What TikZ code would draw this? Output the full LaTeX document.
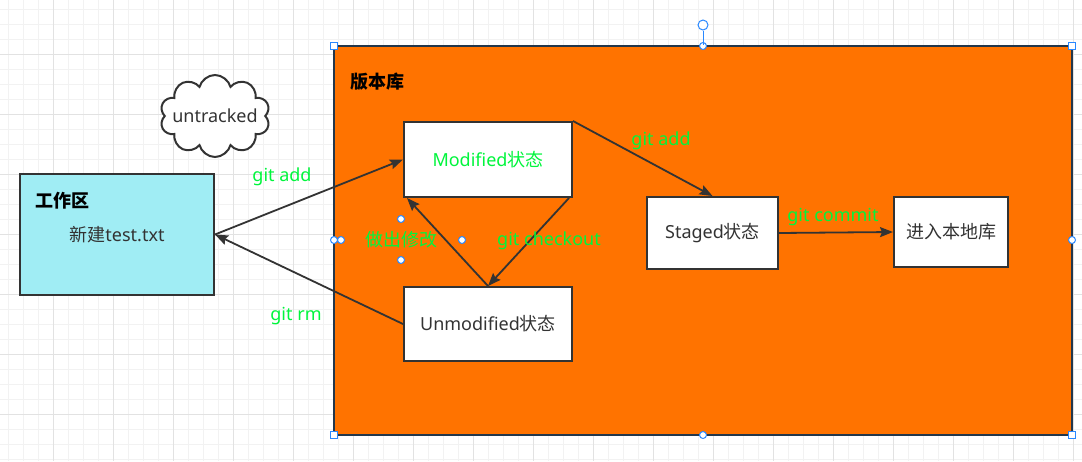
\documentclass[tikz,border=0pt]{standalone}
\usepackage{fontspec}
\setmainfont{Noto Sans}
\newfontfamily\cjk{Noto Sans CJK SC}
\usetikzlibrary{arrows.meta, shapes.symbols, positioning}
\definecolor{gitOrange}{RGB}{255,115,0}
\definecolor{gitCyan}{RGB}{160,237,244}
\definecolor{gitGreen}{RGB}{0,245,60}
\definecolor{edgeGrey}{RGB}{51,51,51}
\definecolor{frameBlue}{RGB}{35,55,75}
\definecolor{handleBlue}{RGB}{41,136,255}
\definecolor{gridLight}{RGB}{242,242,242}
\definecolor{gridDark}{RGB}{226,226,226}
\tikzset{
    stateBox/.style={rectangle, draw=edgeGrey, line width=2pt, fill=white, inner sep=0pt, text=edgeGrey, font=\fontsize{18}{21}\selectfont},
    gitEdge/.style={-{Stealth[length=13pt, width=10pt, inset=2pt]}, line width=1.8pt, draw=edgeGrey},
    gitLabel/.style={inner sep=0pt, text=gitGreen, font=\fontsize{18}{21}\selectfont},
    areaTitle/.style={anchor=west, inner sep=0pt, font=\cjk\bfseries\fontsize{18}{21}\selectfont},
    gridMinor/.style={draw=gridLight, line width=1pt},
    gridMajor/.style={draw=gridDark, line width=1pt},
    handleSquare/.style={draw=handleBlue, fill=white, line width=1pt},
    handleRound/.style={circle, draw=handleBlue, fill=white, line width=1pt, inner sep=0pt, minimum size=7},
}
\newcommand{\zh}[1]{{\cjk #1}}

\begin{document}
\begin{tikzpicture}[x=1pt, y=-1pt]
    \useasboundingbox (0,0) rectangle (1082,461);
    \clip (0,0) rectangle (1082,461);

    % background grid
    \foreach \k in {0,...,71} \draw[gridMinor] ({8.3+15*\k},0) -- ({8.3+15*\k},461);
    \foreach \k in {0,...,30} \draw[gridMinor] (0,{9.3+15*\k}) -- (1082,{9.3+15*\k});
    \foreach \k in {0,...,17} \draw[gridMajor] ({53.3+60*\k},0) -- ({53.3+60*\k},461);
    \foreach \k in {0,...,6} \draw[gridMajor] (0,{54.3+60*\k}) -- (1082,{54.3+60*\k});

    % repository area
    \node[draw=frameBlue, fill=gitOrange, line width=2pt, inner sep=0pt, minimum width=738, minimum height=389] (repo) at (703,240.5) {};
    \node[areaTitle] (repoTitle) at (350,82) {版本库};

    % working area
    \node[stateBox, fill=gitCyan, minimum width=194, minimum height=121] (work) at (117,234.5) {};
    \node[areaTitle] (workTitle) at (35,201) {工作区};
    \node[inner sep=0pt, text=edgeGrey, font=\fontsize{18}{21}\selectfont] (newFile) at (117,235) {\zh{新建}test.txt};

    \node[cloud, cloud puffs=10, aspect=1.35, draw=edgeGrey, fill=white, line width=2pt, inner sep=0pt, minimum width=110, minimum height=82,
          label={[text=edgeGrey, font=\fontsize{18}{21}\selectfont]center:untracked}] (untracked) at (215,116) {};

    % states
    \node[stateBox, minimum width=168, minimum height=75, text=gitGreen] (modified) at (488,159.5) {Modified\zh{状态}};
    \node[stateBox, minimum width=168, minimum height=74] (unmodified) at (488,324) {Unmodified\zh{状态}};
    \node[stateBox, minimum width=131, minimum height=72] (staged) at (712.5,233) {Staged\zh{状态}};
    \node[stateBox, minimum width=114, minimum height=70] (local) at (951,232) {\zh{进入本地库}};

    % transitions
    \draw[gitEdge] (work.east) -- (modified.west);
    \draw[gitEdge] (unmodified.west) -- (work.east);
    \draw[gitEdge] (modified.north east) -- (staged.north);
    \draw[gitEdge] ([xshift=-4pt]modified.south east) -- (unmodified.north);
    \draw[gitEdge] (unmodified.north) -- ([xshift=4pt]modified.south west);
    \draw[gitEdge] (staged.east) -- (local.west);

    \node[gitLabel] (lblAdd) at (282,177) {git add};
    \node[gitLabel] (lblRm) at (296,316) {git rm};
    \node[gitLabel] (lblStage) at (661,141) {git add};
    \node[gitLabel] (lblCheckout) at (549,241) {git checkout};
    \node[gitLabel] (lblModify) at (401,240) {\zh{做出修改}};
    \node[gitLabel] (lblCommit) at (833,217) {git commit};

    % selection handles
    \foreach \hx/\hy in {334/46, 1072/46, 334/435, 1072/435}
        \draw[handleSquare] ({\hx-3.5},{\hy-3.5}) rectangle ({\hx+3.5},{\hy+3.5});
    \foreach \hx/\hy in {703/46, 1072/240, 703/435, 334/240, 341/240, 401/219, 401/260, 462/240}
        \draw[handleSquare] (\hx,\hy) circle (3.5);
    \node[handleRound, minimum size=10] (rotHandle) at (703,25) {};
    \draw[draw=handleBlue, line width=1pt] (rotHandle) -- (repo.north);
\end{tikzpicture}
\end{document}
